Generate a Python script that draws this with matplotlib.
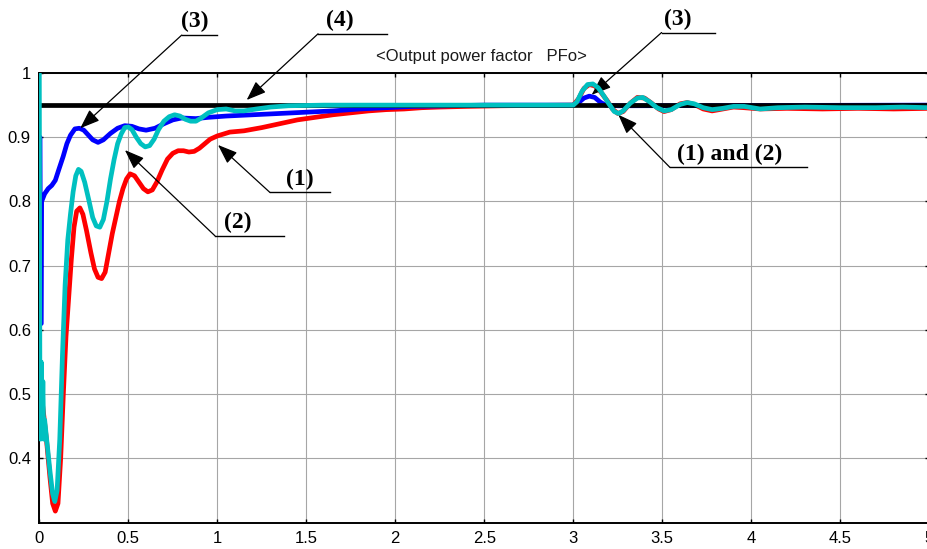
import matplotlib
matplotlib.use("Agg")
import matplotlib.pyplot as plt

# --- data ---
t_ref = [0.0, 5.0]
pf_ref = [0.95, 0.95]  # (4) reference

t_red = [0.0, 0.01, 0.02, 0.04, 0.06, 0.075, 0.09, 0.105, 0.12, 0.135, 0.15, 0.165,
         0.18, 0.195, 0.21, 0.228, 0.245, 0.265, 0.29, 0.31, 0.33, 0.35, 0.37, 0.39,
         0.41, 0.43, 0.45, 0.47, 0.49, 0.51, 0.535, 0.56, 0.585, 0.61, 0.635, 0.66,
         0.69, 0.72, 0.75, 0.78, 0.81, 0.84, 0.87, 0.90, 0.93, 0.96, 1.0, 1.07, 1.15,
         1.25, 1.35, 1.45, 1.55, 1.65, 1.75, 1.85, 1.95, 2.05, 2.15, 2.25, 2.4, 2.6,
         3.0, 3.03, 3.06, 3.09, 3.12, 3.15, 3.19, 3.22, 3.25, 3.28, 3.32, 3.36, 3.40,
         3.44, 3.48, 3.51, 3.55, 3.60, 3.64, 3.68, 3.73, 3.78, 3.84, 3.90, 3.96, 4.05,
         4.2, 4.4, 4.6, 4.8, 5.0]
pf_red = [0.55, 0.50, 0.48, 0.43, 0.37, 0.33, 0.318, 0.33, 0.40, 0.50, 0.59, 0.65,
          0.71, 0.76, 0.785, 0.79, 0.78, 0.755, 0.72, 0.695, 0.682, 0.68, 0.69, 0.72,
          0.75, 0.775, 0.80, 0.82, 0.835, 0.843, 0.84, 0.83, 0.82, 0.815, 0.818, 0.83,
          0.849, 0.866, 0.875, 0.879, 0.879, 0.877, 0.878, 0.883, 0.89, 0.897, 0.902,
          0.908, 0.91, 0.915, 0.921, 0.927, 0.931, 0.935, 0.938, 0.941, 0.943, 0.944,
          0.946, 0.947, 0.948, 0.949, 0.95, 0.96, 0.976, 0.982, 0.98, 0.972, 0.957,
          0.944, 0.937, 0.94, 0.953, 0.962, 0.961, 0.953, 0.944, 0.94, 0.943, 0.952,
          0.954, 0.951, 0.944, 0.941, 0.944, 0.947, 0.946, 0.944, 0.945, 0.944, 0.945,
          0.944, 0.945]

t_cyan = [0.0, 0.003, 0.007, 0.011, 0.015, 0.02, 0.025, 0.03, 0.045, 0.06, 0.075,
          0.087, 0.10, 0.115, 0.13, 0.145, 0.16, 0.175, 0.19, 0.205, 0.22, 0.235,
          0.255, 0.28, 0.30, 0.32, 0.34, 0.36, 0.38, 0.40, 0.42, 0.44, 0.46, 0.48,
          0.50, 0.52, 0.545, 0.57, 0.595, 0.62, 0.645, 0.67, 0.70, 0.73, 0.76, 0.79,
          0.82, 0.85, 0.88, 0.91, 0.95, 1.0, 1.05, 1.1, 1.15, 1.22, 1.3, 1.4, 1.6,
          3.0, 3.02, 3.05, 3.08, 3.11, 3.14, 3.17, 3.2, 3.23, 3.255, 3.28, 3.32, 3.36,
          3.39, 3.43, 3.47, 3.51, 3.55, 3.6, 3.64, 3.68, 3.73, 3.78, 3.84, 3.9, 3.96,
          4.05, 4.15, 4.3, 4.5, 4.7, 4.85, 5.0]
pf_cyan = [1.0, 0.55, 0.43, 0.55, 0.44, 0.52, 0.43, 0.46, 0.42, 0.38, 0.345,
           0.333, 0.35, 0.43, 0.56, 0.67, 0.74, 0.78, 0.815, 0.84, 0.85, 0.847,
           0.83, 0.80, 0.775, 0.762, 0.76, 0.772, 0.80, 0.835, 0.865, 0.89, 0.905,
           0.915, 0.916, 0.912, 0.90, 0.89, 0.885, 0.887, 0.897, 0.912, 0.925, 0.932,
           0.935, 0.933, 0.928, 0.925, 0.925, 0.93, 0.938, 0.943, 0.944, 0.941, 0.941,
           0.944, 0.947, 0.949, 0.95, 0.95, 0.955, 0.972, 0.982, 0.983, 0.977, 0.965,
           0.952, 0.94, 0.937, 0.941, 0.953, 0.961, 0.962, 0.955, 0.946, 0.941, 0.943,
           0.951, 0.954, 0.952, 0.946, 0.943, 0.945, 0.948, 0.948, 0.944, 0.946,
           0.947, 0.946, 0.946, 0.947, 0.946]

t_blue = [0.0, 0.004, 0.007, 0.011, 0.013, 0.03, 0.05, 0.07, 0.09, 0.11, 0.134,
          0.155, 0.175, 0.2, 0.225, 0.25, 0.27, 0.30, 0.33, 0.36, 0.40, 0.44, 0.48,
          0.52, 0.56, 0.60, 0.65, 0.70, 0.75, 0.80, 0.88, 0.95, 1.05, 1.2, 1.35, 1.5,
          1.65, 1.8, 1.95, 2.1, 2.3, 2.5, 3.0, 3.03, 3.06, 3.09, 3.12, 3.15, 3.18,
          3.25, 5.0]
pf_blue = [0.9, 0.9, 0.61, 0.61, 0.80, 0.812, 0.82, 0.825, 0.833, 0.85, 0.87,
           0.89, 0.903, 0.913, 0.914, 0.911, 0.905, 0.896, 0.892, 0.896, 0.906, 0.914,
           0.918, 0.917, 0.913, 0.911, 0.914, 0.921, 0.927, 0.93, 0.929, 0.931, 0.933,
           0.935, 0.937, 0.939, 0.941, 0.944, 0.946, 0.948, 0.949, 0.95, 0.95, 0.954,
           0.961, 0.964, 0.962, 0.955, 0.95, 0.949, 0.95]

x_ticks = [0, 0.5, 1, 1.5, 2, 2.5, 3, 3.5, 4, 4.5, 5]
x_labels = ["0", "0.5", "1", "1.5", "2", "2.5", "3", "3.5", "4", "4.5", "5"]
y_ticks = [0.4, 0.5, 0.6, 0.7, 0.8, 0.9, 1.0]
y_labels = ["0.4", "0.5", "0.6", "0.7", "0.8", "0.9", "1"]

plt.rcParams['font.family'] = ['Liberation Sans', 'DejaVu Sans']

fig = plt.figure(figsize=(9.28, 5.49), dpi=100)
ax = fig.add_axes([39.3 / 928, 26.3 / 549, 890 / 928, 449.7 / 549])

lw = 3.4
ax.plot(t_red, pf_red, color='#ff0000', lw=lw, zorder=2)
ax.plot(t_blue, pf_blue, color='#0000ff', lw=lw, zorder=3)
ax.plot(t_ref, pf_ref, color='black', lw=lw, solid_capstyle='butt', zorder=4)
ax.plot(t_cyan, pf_cyan, color='#00c0c0', lw=lw, zorder=5)

ax.set_xlim(0, 5)
ax.set_ylim(0.3, 1.0)
ax.set_xticks(x_ticks)
ax.set_xticklabels(x_labels)
ax.set_yticks(y_ticks)
ax.set_yticklabels(y_labels)
ax.tick_params(direction='in', length=3, width=1, top=True, right=True,
               labelsize=12, pad=6, colors='black')
ax.grid(True, color='#a6a6a6', lw=0.8)
ax.set_axisbelow(True)
for s in ax.spines.values():
    s.set_linewidth(1.4)

fig.text(481 / 928, 1 - 56 / 549, "<Output power factor   PFo>",
         ha='center', va='center', fontsize=12, color='#1a1a1a')


def callout(label, tip, tail, line_end, text_x):
    ax.annotate('', xy=tip, xytext=tail, annotation_clip=False,
                arrowprops=dict(arrowstyle='-|>,head_length=1.2,head_width=0.45',
                                mutation_scale=10, color='black', lw=0.9,
                                shrinkA=0, shrinkB=0))
    ax.plot([tail[0], line_end], [tail[1], tail[1]], color='black', lw=1.0,
            clip_on=False, zorder=6)
    ax.text(text_x, tail[1] + 0.004, label, ha='center', va='bottom',
            family='Liberation Serif', fontweight='bold', fontsize=17,
            clip_on=False)


callout("(3)", (0.23, 0.914), (0.80, 1.059), 1.0, 0.875)
callout("(4)", (1.165, 0.958), (1.566, 1.061), 1.953, 1.69)
callout("(1)", (1.004, 0.888), (1.296, 0.814), 1.633, 1.464)
callout("(2)", (0.481, 0.880), (0.987, 0.7465), 1.374, 1.116)
callout("(3)", (3.103, 0.966), (3.496, 1.063), 3.796, 3.588)
callout("(1) and (2)", (3.253, 0.935), (3.543, 0.853), 4.311, 3.880)

fig.savefig("out.png", dpi=100)
